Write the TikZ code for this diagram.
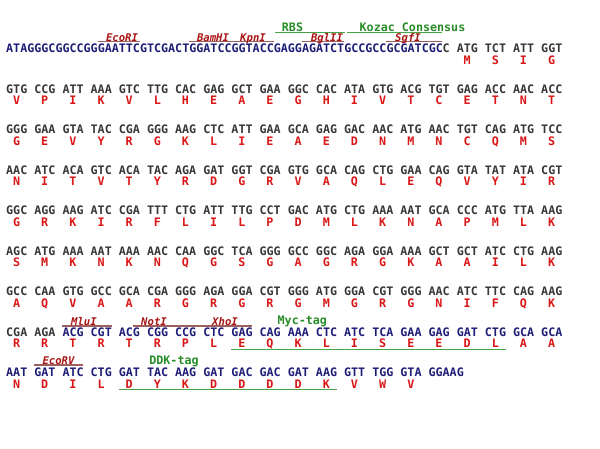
\documentclass[tikz,border=0pt]{standalone}
\usepackage{fontspec}
\newfontfamily\seqfont{DejaVu Sans Mono}[BoldFont={DejaVu Sans Mono Bold},ItalicFont={DejaVu Sans Mono Oblique},BoldItalicFont={DejaVu Sans Mono Bold Oblique}]
\definecolor{navy}{RGB}{30,30,120}
\definecolor{dnagray}{RGB}{55,55,55}
\definecolor{aared}{RGB}{218,22,22}
\definecolor{sitered}{RGB}{170,20,20}
\definecolor{sitelinec}{RGB}{160,95,95}
\definecolor{taggreen}{RGB}{40,140,40}
\definecolor{taglinec}{RGB}{70,165,70}
\def\cw{7.04}
\def\xo{6}
\tikzset{
  dna/.style={font={\seqfont\bfseries\fontsize{11.7}{14}\selectfont}, text=dnagray, anchor=base west, inner sep=0pt},
  vec/.style={dna, text=navy},
  aa/.style={font={\seqfont\bfseries\fontsize{11.7}{14}\selectfont}, text=aared, anchor=base, inner sep=0pt},
  site/.style={font={\seqfont\bfseries\itshape\fontsize{10.6}{12}\selectfont}, text=sitered, anchor=base, inner sep=0pt},
  siteline/.style={draw=sitelinec, line width=1.2pt},
  tag/.style={font={\seqfont\bfseries\fontsize{11.7}{14}\selectfont}, text=taggreen, anchor=base, inner sep=0pt},
  tagline/.style={draw=taglinec, line width=1.2pt}
}
% #1 name, #2 baseline y, #3 style, #4 first codon index, #5 codon list
\newcommand\dnarow[5]{%
  \foreach \cod [count=\i from #4] in {#5} {\node[#3] (#1c\i) at ({\xo+4*\i*\cw}, #2) {\cod};}}
% #1 name, #2 baseline y, #3 first codon index, #4 aa list
\newcommand\aarow[4]{%
  \foreach \res [count=\i from #3] in {#4} {\node[aa] (#1a\i) at ({\xo+(4*\i+1.5)*\cw}, #2) {\res};}}
\begin{document}
\begin{tikzpicture}[x=1pt,y=-1pt]
\fill[white] (0,0) rectangle (600,448);
\useasboundingbox (0,0) rectangle (600,448);
% ---- underlines (drawn first)
\draw[siteline] ({\xo+13*\cw},41.8) -- ({\xo+19*\cw},41.8);
\draw[siteline] ({\xo+26*\cw},41.8) -- ({\xo+32*\cw},41.8);
\draw[siteline] ({\xo+32*\cw},41.8) -- ({\xo+38*\cw},41.8);
\draw[siteline] ({\xo+42*\cw},41.8) -- ({\xo+48*\cw},41.8);
\draw[siteline] ({\xo+54*\cw},41.8) -- ({\xo+62*\cw},41.8);
\draw[tagline] (275,32.3) -- (345,32.3);
\draw[tagline] (347,32.3) -- (442,32.3);
\draw[siteline] ({\xo+8*\cw},326) -- ({\xo+15*\cw},326);
\draw[siteline] ({\xo+18*\cw},326) -- ({\xo+28.6*\cw},326);
\draw[siteline] ({\xo+28.4*\cw},326) -- ({\xo+35*\cw},326);
\draw[siteline] ({\xo+4*\cw},365) -- ({\xo+11*\cw},365);
\draw[tagline] ({\xo+32*\cw},349.6) -- ({\xo+71*\cw},349.6);
\draw[tagline] ({\xo+16*\cw},389.6) -- ({\xo+47*\cw},389.6);
% ---- row 1 labels
\node[site] (ecori) at (122,41) {EcoRI};
\node[site] (bamhi) at (213,41) {BamHI};
\node[site] (kpni) at (253,41) {KpnI};
\node[site] (bglii) at (327,41) {BglII};
\node[site] (sgfi) at (408,41) {SgfI};
\node[tag] (rbs) at (292.5,31.5) {RBS};
\node[tag] (kozak) at (412.5,31.5) {Kozac Consensus};
% ---- row 1
\node[vec] (r1v) at (\xo,52.5) {ATAGGGCGGCCGGGAATTCGTCGACTGGATCCGGTACCGAGGAGATCTGCCGCCGCGATCGC};
\node[dna] (r1c) at ({\xo+62*\cw},52.5) {C};
\dnarow{r1}{52.5}{dna}{16}{ATG,TCT,ATT,GGT}
\aarow{r1}{64}{16}{M,S,I,G}
% ---- row 2
\dnarow{r2}{93}{dna}{0}{GTG,CCG,ATT,AAA,GTC,TTG,CAC,GAG,GCT,GAA,GGC,CAC,ATA,GTG,ACG,TGT,GAG,ACC,AAC,ACC}
\aarow{r2}{104.5}{0}{V,P,I,K,V,L,H,E,A,E,G,H,I,V,T,C,E,T,N,T}
% ---- row 3
\dnarow{r3}{133.5}{dna}{0}{GGG,GAA,GTA,TAC,CGA,GGG,AAG,CTC,ATT,GAA,GCA,GAG,GAC,AAC,ATG,AAC,TGT,CAG,ATG,TCC}
\aarow{r3}{145}{0}{G,E,V,Y,R,G,K,L,I,E,A,E,D,N,M,N,C,Q,M,S}
% ---- row 4
\dnarow{r4}{174}{dna}{0}{AAC,ATC,ACA,GTC,ACA,TAC,AGA,GAT,GGT,CGA,GTG,GCA,CAG,CTG,GAA,CAG,GTA,TAT,ATA,CGT}
\aarow{r4}{185.5}{0}{N,I,T,V,T,Y,R,D,G,R,V,A,Q,L,E,Q,V,Y,I,R}
% ---- row 5
\dnarow{r5}{214.5}{dna}{0}{GGC,AGG,AAG,ATC,CGA,TTT,CTG,ATT,TTG,CCT,GAC,ATG,CTG,AAA,AAT,GCA,CCC,ATG,TTA,AAG}
\aarow{r5}{226}{0}{G,R,K,I,R,F,L,I,L,P,D,M,L,K,N,A,P,M,L,K}
% ---- row 6
\dnarow{r6}{255}{dna}{0}{AGC,ATG,AAA,AAT,AAA,AAC,CAA,GGC,TCA,GGG,GCC,GGC,AGA,GGA,AAA,GCT,GCT,ATC,CTG,AAG}
\aarow{r6}{266.5}{0}{S,M,K,N,K,N,Q,G,S,G,A,G,R,G,K,A,A,I,L,K}
% ---- row 7
\dnarow{r7}{295.5}{dna}{0}{GCC,CAA,GTG,GCC,GCA,CGA,GGG,AGA,GGA,CGT,GGG,ATG,GGA,CGT,GGG,AAC,ATC,TTC,CAG,AAG}
\aarow{r7}{307}{0}{A,Q,V,A,A,R,G,R,G,R,G,M,G,R,G,N,I,F,Q,K}
% ---- row 8 labels
\node[site] (mlui) at (84,325.2) {MluI};
\node[site] (noti) at (154,325.2) {NotI};
\node[site] (xhoi) at (225,325.2) {XhoI};
\node[tag, anchor=base west] (myc) at (277.5,324) {Myc-tag};
% ---- row 8
\dnarow{r8}{336}{dna}{0}{CGA,AGA}
\dnarow{r8}{336}{vec}{2}{ACG,CGT,ACG,CGG,CCG,CTC,GAG,CAG,AAA,CTC,ATC,TCA,GAA,GAG,GAT,CTG,GCA,GCA}
\aarow{r8}{347.5}{0}{R,R,T,R,T,R,P,L,E,Q,K,L,I,S,E,E,D,L,A,A}
% ---- row 9 labels
\node[site] (ecorv) at (58.5,364.2) {EcoRV};
\node[tag] (ddk) at (174,364.5) {DDK-tag};
% ---- row 9
\dnarow{r9}{376.5}{vec}{0}{AAT,GAT,ATC,CTG,GAT,TAC,AAG,GAT,GAC,GAC,GAT,AAG,GTT,TGG,GTA,GGAAG}
\aarow{r9}{388}{0}{N,D,I,L,D,Y,K,D,D,D,D,K,V,W,V}
\end{tikzpicture}
\end{document}
